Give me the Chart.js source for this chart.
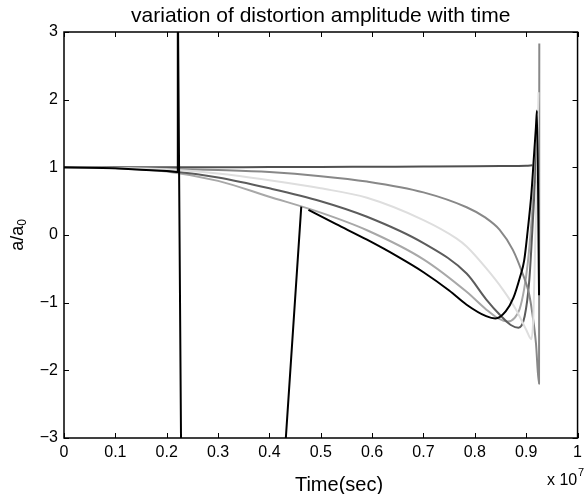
<!DOCTYPE html>
<html>
<head>
<meta charset="utf-8">
<script src="https://cdn.jsdelivr.net/npm/chart.js@4.4.1/dist/chart.umd.min.js"></script>
<style>
  html, body { margin: 0; padding: 0; background: #fff; }
  #wrap { width: 587px; height: 494px; position: relative; }
</style>
</head>
<body>
<div id="wrap"><canvas id="chart" width="587" height="494"></canvas></div>
<script>
// time in units of 10^7 s, amplitude a/a0
const xTickLabels = ['0', '0.1', '0.2', '0.3', '0.4', '0.5', '0.6', '0.7', '0.8', '0.9', '1'];
const yTickLabels = ['\u22123', '\u22122', '\u22121', '0', '1', '2', '3'];

const timeFlat = [0, 0.1, 0.2, 0.3, 0.4, 0.5, 0.6, 0.7, 0.8, 0.85, 0.9, 0.912];
const ampFlat  = [1, 1, 1, 1.002, 1.004, 1.006, 1.009, 1.012, 1.016, 1.019, 1.024, 1.03];

// black run that blows up (straight segments, partly off the axes)
const timeBlackJump = [0, 0.05, 0.1, 0.15, 0.2, 0.2205, 0.2216, 0.2284, 0.42, 0.4267, 0.462];
const ampBlackJump  = [1, 0.995, 0.985, 0.965, 0.945, 0.93, 3.6, -3.6, -4.37, -3.6, 0.42];

const timeBlack = [0.476, 0.53, 0.59, 0.65, 0.7, 0.75, 0.784, 0.822, 0.84, 0.86, 0.875, 0.888,
  0.896, 0.903, 0.91, 0.915, 0.919, 0.921, 0.925];
const ampBlack  = [0.37, 0.16, -0.07, -0.32, -0.55, -0.82, -1.03, -1.2, -1.235, -1.13, -0.93, -0.62,
  -0.38, 0.07, 0.6, 1.15, 1.6, 1.84, -0.89];

const timeDark = [0, 0.1, 0.2, 0.3, 0.4, 0.5, 0.59, 0.7, 0.784, 0.822, 0.85, 0.87, 0.885,
  0.897, 0.906, 0.912, 0.918, 0.922, 0.925];
const ampDark  = [1, 0.99, 0.95, 0.85, 0.69, 0.5, 0.27, -0.12, -0.57, -0.95, -1.19, -1.33, -1.37,
  -1.2, -0.67, 0.07, 0.9, 1.5, 1.7];

const timeMidLight = [0, 0.1, 0.2, 0.3, 0.398, 0.5, 0.59, 0.7, 0.784, 0.822, 0.845, 0.864, 0.878,
  0.887, 0.896, 0.903, 0.909, 0.915, 0.92, 0.924];
const ampMidLight  = [1, 0.985, 0.94, 0.8, 0.57, 0.33, 0.07, -0.36, -0.84, -1.1, -1.23, -1.28, -1.22,
  -1.1, -0.8, -0.42, 0.07, 0.7, 1.3, 1.7];

const timeLight = [0, 0.1, 0.2, 0.3, 0.4, 0.5, 0.59, 0.7, 0.764, 0.784, 0.822, 0.855, 0.88, 0.9,
  0.91, 0.914, 0.917, 0.92, 0.924];
const ampLight  = [1, 0.99, 0.97, 0.91, 0.81, 0.69, 0.55, 0.22, -0.05, -0.17, -0.49, -0.81, -1.1, -1.4,
  -1.54, -1.2, -0.3, 0.6, 2.11];

const timeMid = [0, 0.1, 0.2, 0.3, 0.4, 0.5, 0.59, 0.7, 0.784, 0.82, 0.848, 0.874, 0.893, 0.905,
  0.912, 0.919, 0.925, 0.9255];
const ampMid  = [1, 0.995, 0.98, 0.96, 0.93, 0.87, 0.79, 0.63, 0.41, 0.26, 0.08, -0.22, -0.57, -0.85,
  -1.16, -1.6, -2.2, 2.83];

function pts(xs, ys) {
  return xs.map((x, i) => ({ x: x, y: ys[i] }));
}

function series(xs, ys, color, smooth) {
  return {
    data: pts(xs, ys),
    borderColor: color,
    borderWidth: 2,
    pointRadius: 0,
    fill: false,
    tension: 0,
    cubicInterpolationMode: smooth ? 'monotone' : 'default',
    borderJoinStyle: 'round',
    clip: 0
  };
}

const FONT = '"Liberation Sans", Arial, Helvetica, sans-serif';

// box, inward ticks and the text around the axes
const matlabAxes = {
  id: 'matlabAxes',
  afterDraw(chart) {
    const ctx = chart.ctx;
    const a = chart.chartArea;
    const xs = chart.scales.x;
    const ys = chart.scales.y;
    const tick = 5;

    ctx.save();
    ctx.strokeStyle = '#000';
    ctx.lineWidth = 1;
    ctx.beginPath();
    xs.ticks.forEach(t => {
      const px = Math.round(xs.getPixelForValue(t.value)) + 0.5;
      ctx.moveTo(px, a.bottom); ctx.lineTo(px, a.bottom - tick);
      ctx.moveTo(px, a.top); ctx.lineTo(px, a.top + tick);
    });
    ys.ticks.forEach(t => {
      const py = Math.round(ys.getPixelForValue(t.value)) + 0.5;
      ctx.moveTo(a.left, py); ctx.lineTo(a.left + tick, py);
      ctx.moveTo(a.right, py); ctx.lineTo(a.right - tick, py);
    });
    ctx.stroke();
    ctx.lineWidth = 1.5;
    ctx.strokeRect(a.left, a.top, a.right - a.left, a.bottom - a.top);

    ctx.fillStyle = '#000';
    ctx.textAlign = 'center';
    ctx.textBaseline = 'alphabetic';
    ctx.font = '21px ' + FONT;
    ctx.fillText('variation of distortion amplitude with time', (a.left + a.right) / 2, 22);
    ctx.textBaseline = 'middle';
    ctx.font = '20px ' + FONT;
    ctx.fillText('Time(sec)', 339, 485);

    // exponent label
    ctx.textAlign = 'left';
    ctx.font = '16px ' + FONT;
    ctx.fillText('x 10', 547, 481);
    ctx.font = '11px ' + FONT;
    ctx.fillText('7', 578, 473);

    // y label with subscript
    ctx.translate(18, (a.top + a.bottom) / 2);
    ctx.rotate(-Math.PI / 2);
    ctx.font = '18px ' + FONT;
    const main = 'a/a';
    const w1 = ctx.measureText(main).width;
    ctx.font = '12px ' + FONT;
    const w2 = ctx.measureText('0').width;
    const start = -(w1 + w2) / 2;
    ctx.font = '18px ' + FONT;
    ctx.fillText(main, start, 0);
    ctx.font = '12px ' + FONT;
    ctx.fillText('0', start + w1, 5);
    ctx.restore();
  }
};

new Chart(document.getElementById('chart'), {
  type: 'line',
  data: {
    datasets: [
      series(timeBlack, ampBlack, '#000000', true),
      series(timeBlackJump, ampBlackJump, '#000000', false),
      series(timeLight, ampLight, '#dedede', true),
      series(timeMid, ampMid, '#888888', true),
      series(timeDark, ampDark, '#5c5c5c', true),
      series(timeMidLight, ampMidLight, '#a8a8a8', true),
      series(timeFlat, ampFlat, '#505050', true)
    ]
  },
  options: {
    responsive: false,
    animation: false,
    events: [],
    layout: { padding: { left: 0, right: 5, top: 32, bottom: 0 } },
    plugins: {
      legend: { display: false },
      title: { display: false },
      tooltip: { enabled: false }
    },
    scales: {
      x: {
        type: 'linear',
        min: 0,
        max: 1,
        grid: { display: false, drawTicks: false },
        border: { display: false },
        afterFit(scale) { scale.height = 56; },
        ticks: {
          stepSize: 0.1,
          padding: 5,
          maxRotation: 0,
          autoSkip: false,
          color: '#000',
          font: { family: FONT, size: 16 },
          callback: (v, i) => xTickLabels[i]
        }
      },
      y: {
        type: 'linear',
        min: -3,
        max: 3,
        grid: { display: false, drawTicks: false },
        border: { display: false },
        afterFit(scale) { scale.width = 64; },
        ticks: {
          stepSize: 1,
          padding: 6,
          color: '#000',
          font: { family: FONT, size: 16 },
          callback: (v, i) => yTickLabels[i]
        }
      }
    }
  },
  plugins: [matlabAxes]
});
</script>
</body>
</html>
